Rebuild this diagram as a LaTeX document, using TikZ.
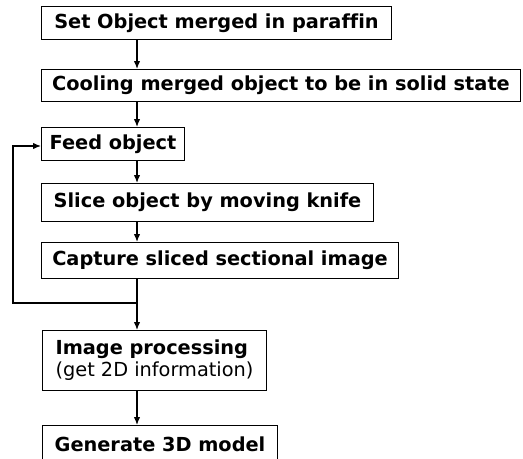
\documentclass[tikz,border=0pt]{standalone}
\usepackage{fontspec}
\setmainfont[Ligatures=NoCommon]{DejaVu Sans}
\usetikzlibrary{arrows.meta}
\begin{document}
\begin{tikzpicture}[x=1bp,y=-1bp,
  box/.style={draw, line width=1pt, anchor=north west, inner sep=0pt, align=center,
    font=\fontsize{19.4}{22}\selectfont\bfseries},
  arr/.style={line width=1.3pt, -{Latex[length=8pt,width=6.5pt]}},
  ln/.style={line width=1.3pt}]
\useasboundingbox (0,0) rectangle (523,459);
\node[box, minimum width=350bp, minimum height=33bp] (b1) at (41,6) {Set Object merged in paraffin};
\node[box, minimum width=479bp, minimum height=32bp] (b2) at (41,69) {Cooling merged object to be in solid state};
\node[box, minimum width=143bp, minimum height=33bp] (b3) at (41,127) {Feed object};
\node[box, minimum width=332bp, minimum height=38bp] (b4) at (41,183) {Slice object by moving knife};
\node[box, minimum width=357bp, minimum height=36bp] (b5) at (41,242) {Capture sliced sectional image};
\node[box, minimum width=224bp, minimum height=60bp, align=left] (b6) at (42,330)
  {Image processing\\{\mdseries (get 2D information)}};
\node[box, minimum width=235bp, minimum height=37bp] (b7) at (42,425) {Generate 3D model};
\coordinate (c1) at (137,303);
\coordinate (c2) at (13,303);
\coordinate (c3) at (13,146);
\draw[arr] (b1.south -| c1) -- (b2.north -| c1);
\draw[arr] (b2.south -| c1) -- (b3.north -| c1);
\draw[arr] (b3.south -| c1) -- (b4.north -| c1);
\draw[arr] (b4.south -| c1) -- (b5.north -| c1);
\draw[ln] (b5.south -| c1) -- (c1);
\draw[arr] (c1) -- (b6.north -| c1);
\draw[arr] (b6.south -| c1) -- (b7.north -| c1);
\draw[arr] (c1) -- (c2) -- (c3) -- (c3 -| b3.west);
\end{tikzpicture}
\end{document}
